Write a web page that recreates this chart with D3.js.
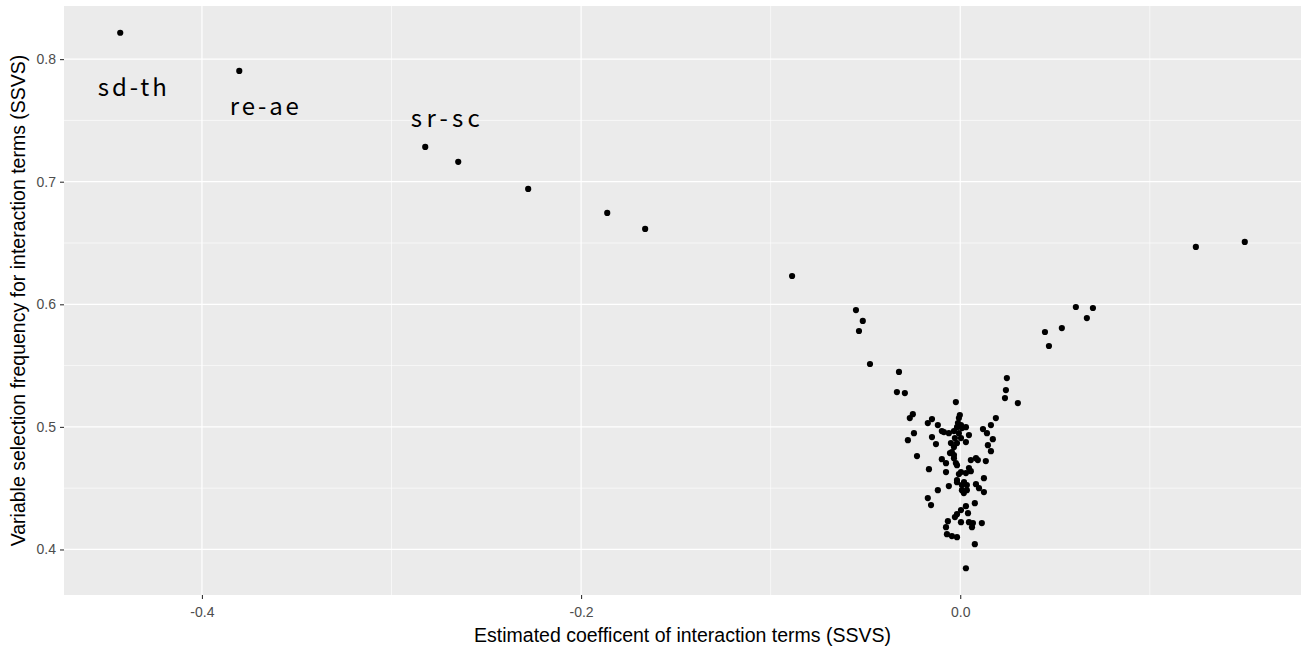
<!DOCTYPE html>
<html>
<head>
<meta charset="utf-8">
<script src="https://cdn.jsdelivr.net/npm/d3@7"></script>
<style>
  body { margin: 0; background: #fff; }
  svg { display: block; }
</style>
</head>
<body>
<div id="chart"></div>
<script>
// estimated coefficients (x) and selection frequency (y)
const coef = [
  -0.4431, -0.3803, -0.2822, -0.2648, -0.2279, -0.1862, -0.1662, -0.0887, 0.1243, 0.1501,
  -0.0550, -0.0514, -0.0534, -0.0476, 0.0610, 0.0700, 0.0668, 0.0536, 0.0447, 0.0468,
  0.0246, 0.0241, 0.0236, 0.0304, -0.0323, -0.0334, -0.0292, -0.0023, -0.0250, -0.0266,
  -0.0149, -0.0171, -0.0118, -0.0244, -0.0276, -0.0149, -0.0128, -0.0097, -0.0060, 0.0188,
  0.0162, 0.0120, 0.0141, 0.0172, 0.0146, 0.0162, 0.0030, 0.0046, 0.0030, -0.0049,
  -0.0054, -0.0033, -0.0228, -0.0165, -0.0097, -0.0075, 0.0056, 0.0093, 0.0135, -0.0017,
  0.0046, 0.0004, -0.0075, 0.0125, -0.0007, 0.0030, 0.0056, -0.0118, -0.0060, -0.0017,
  0.0009, 0.0035, 0.0009, 0.0019, 0.0083, 0.0099, 0.0125, -0.0171, -0.0154, 0.0077,
  0.0030, 0.0004, 0.0041, -0.0017, -0.0028, -0.0065, -0.0075, 0.0004, 0.0046, 0.0067,
  0.0062, 0.0114, -0.0070, -0.0044, -0.0017, 0.0077, 0.0030, -0.0002, -0.0007, -0.0012,
  0.0004, -0.0017, 0.0009, -0.0033, -0.0007, -0.0028, 0.0004, -0.0017, -0.0086, -0.0033,
  -0.0044, -0.0033, -0.0023, 0.0083, -0.0017, 0.0020, 0.0035
];
const freq = [
  0.8215, 0.7904, 0.7284, 0.7162, 0.6941, 0.6745, 0.6615, 0.6231, 0.6468, 0.6509,
  0.5953, 0.5864, 0.5782, 0.5513, 0.5978, 0.5970, 0.5888, 0.5806, 0.5774, 0.5660,
  0.5398, 0.5300, 0.5235, 0.5194, 0.5448, 0.5284, 0.5276, 0.5202, 0.5104, 0.5072,
  0.5064, 0.5031, 0.5015, 0.4949, 0.4892, 0.4917, 0.4860, 0.4966, 0.4949, 0.5072,
  0.5015, 0.4982, 0.4949, 0.4900, 0.4851, 0.4802, 0.4998, 0.4933, 0.4876, 0.4868,
  0.4786, 0.4770, 0.4762, 0.4655, 0.4737, 0.4704, 0.4729, 0.4729, 0.4721, 0.4688,
  0.4664, 0.4631, 0.4631, 0.4582, 0.4615, 0.4623, 0.4639, 0.4484, 0.4517, 0.4549,
  0.4525, 0.4525, 0.4484, 0.4460, 0.4533, 0.4500, 0.4468, 0.4419, 0.4362, 0.4378,
  0.4353, 0.4321, 0.4296, 0.4288, 0.4264, 0.4231, 0.4182, 0.4223, 0.4223, 0.4215,
  0.4182, 0.4215, 0.4125, 0.4109, 0.4100, 0.4043, 0.3847, 0.5096, 0.5072, 0.5031,
  0.5015, 0.4998, 0.4990, 0.4966, 0.4949, 0.4909, 0.4909, 0.4868, 0.4958, 0.4835,
  0.4794, 0.4745, 0.4705, 0.4745, 0.4566, 0.4549, 0.4484
];

// text labels for the three top terms
const labelText = ["sd-th", "re-ae", "sr-sc"];
const labelX = [-0.4367, -0.3671, -0.2716];
const labelY = [0.7783, 0.7627, 0.7530];

const xMajor = [-0.4, -0.2, 0.0];
const xMinor = [-0.3, -0.1, 0.1];
const yMajor = [0.4, 0.5, 0.6, 0.7, 0.8];
const yMinor = [0.45, 0.55, 0.65, 0.75];

const width = 1301, height = 648;
const margin = {top: 6, right: 0, bottom: 53, left: 64};

const points = coef.map((c, i) => ({x: c, y: freq[i]}));

// ggplot style 5% expansion
const xr = d3.extent(coef), yr = d3.extent(freq);
const xPad = (xr[1] - xr[0]) * 0.05, yPad = (yr[1] - yr[0]) * 0.05;

const x = d3.scaleLinear()
    .domain([xr[0] - xPad, xr[1] + xPad])
    .range([margin.left, width - margin.right]);
const y = d3.scaleLinear()
    .domain([yr[0] - yPad, yr[1] + yPad])
    .range([height - margin.bottom, margin.top]);

const svg = d3.select("#chart")
    .append("svg")
    .attr("width", width)
    .attr("height", height)
    .style("font-family", "Arial, 'Liberation Sans', sans-serif");

// panel
svg.append("rect")
    .attr("x", margin.left)
    .attr("y", margin.top)
    .attr("width", width - margin.left - margin.right)
    .attr("height", height - margin.top - margin.bottom)
    .attr("fill", "#ebebeb");

const grid = svg.append("g");
grid.selectAll(".xmin").data(xMinor).join("line")
    .attr("x1", d => x(d)).attr("x2", d => x(d))
    .attr("y1", margin.top).attr("y2", height - margin.bottom)
    .attr("stroke", "#fff").attr("stroke-width", 0.6);
grid.selectAll(".ymin").data(yMinor).join("line")
    .attr("y1", d => y(d)).attr("y2", d => y(d))
    .attr("x1", margin.left).attr("x2", width - margin.right)
    .attr("stroke", "#fff").attr("stroke-width", 0.6);
grid.selectAll(".xmaj").data(xMajor).join("line")
    .attr("x1", d => x(d)).attr("x2", d => x(d))
    .attr("y1", margin.top).attr("y2", height - margin.bottom)
    .attr("stroke", "#fff").attr("stroke-width", 1.2);
grid.selectAll(".ymaj").data(yMajor).join("line")
    .attr("y1", d => y(d)).attr("y2", d => y(d))
    .attr("x1", margin.left).attr("x2", width - margin.right)
    .attr("stroke", "#fff").attr("stroke-width", 1.2);

// axes
const xAxis = svg.append("g")
    .attr("transform", `translate(0,${height - margin.bottom})`)
    .call(d3.axisBottom(x).tickValues(xMajor).tickFormat(d3.format(".1f")).tickSize(4).tickPadding(8));
const yAxis = svg.append("g")
    .attr("transform", `translate(${margin.left},0)`)
    .call(d3.axisLeft(y).tickValues(yMajor).tickFormat(d3.format(".1f")).tickSize(4).tickPadding(4));

[xAxis, yAxis].forEach(a => {
    a.select(".domain").remove();
    a.selectAll(".tick line").attr("stroke", "#333").attr("stroke-width", 1.1);
    a.selectAll(".tick text")
        .attr("fill", "#4d4d4d")
        .style("font-size", "14px")
        .style("font-family", "Arial, 'Liberation Sans', sans-serif");
});
xAxis.selectAll(".tick text").text(d => d3.format(".1f")(d).replace("−", "-"));

// points
svg.append("g")
    .selectAll("circle")
    .data(points)
    .join("circle")
    .attr("cx", d => x(d.x))
    .attr("cy", d => y(d.y))
    .attr("r", 3.1)
    .attr("fill", "#000");

// labels
svg.append("g")
    .selectAll("text")
    .data(labelText)
    .join("text")
    .attr("x", (d, i) => x(labelX[i]))
    .attr("y", (d, i) => y(labelY[i]))
    .attr("text-anchor", "middle")
    .attr("dominant-baseline", "central")
    .attr("textLength", 69)
    .attr("lengthAdjust", "spacing")
    .style("font-family", "'Noto Sans CJK JP', sans-serif")
    .style("font-size", "24px")
    .attr("fill", "#000")
    .text(d => d);

// axis titles
svg.append("text")
    .attr("x", (margin.left + width - margin.right) / 2)
    .attr("y", 642)
    .attr("text-anchor", "middle")
    .style("font-size", "19.5px")
    .attr("fill", "#000")
    .text("Estimated coefficent of interaction terms (SSVS)");

svg.append("text")
    .attr("transform", `translate(25,${(margin.top + height - margin.bottom) / 2}) rotate(-90)`)
    .attr("text-anchor", "middle")
    .style("font-size", "19.5px")
    .attr("fill", "#000")
    .text("Variable selection frequency for interaction terms (SSVS)");
</script>
</body>
</html>
